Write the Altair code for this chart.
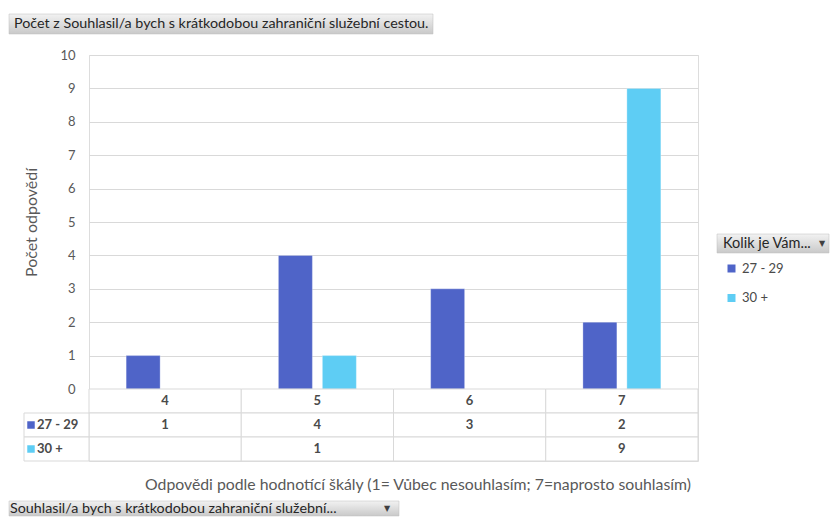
import altair as alt
import pandas as pd

categories = ["4", "5", "6", "7"]
series = ["27 - 29", "30 +"]
values_27_29 = [1, 4, 3, 2]
values_30_plus = [None, 1, None, 9]
colors = ["#4F64C8", "#5ECDF4"]
y_ticks = list(range(0, 11))

chart_title = "Počet z Souhlasil/a bych s krátkodobou zahraniční služební cestou."
y_title = "Počet odpovědí"
x_title = "Odpovědi podle hodnotící škály (1= Vůbec nesouhlasím; 7=naprosto souhlasím)"
legend_header = "Kolik je Vám..."
filter_label = "Souhlasil/a bych s krátkodobou zahraniční služební..."

FONT = "Lato"
GRID = "#D9D9D9"
TXT = "#595959"
DARK = "#4A4A4A"

rows = []
for s, vals in zip(series, [values_27_29, values_30_plus]):
    for c, v in zip(categories, vals):
        if v is not None:
            rows.append({"cat": c, "series": s, "count": v, "label": str(v)})
df = pd.DataFrame(rows)

W, H = 609, 334
TH = 72

grad = alt.Gradient(
    gradient="linear",
    stops=[alt.GradientStop(color="#F2F2F2", offset=0), alt.GradientStop(color="#C9C9C9", offset=1)],
    x1=0, x2=0, y1=0, y2=1,
)

one = pd.DataFrame({"k": [0]})

bars = alt.Chart(df).mark_bar(stroke="#FFFFFF", strokeWidth=0.6, strokeOpacity=0.5).encode(
    x=alt.X("cat:N", scale=alt.Scale(domain=categories, paddingInner=0.488, paddingOuter=0.244), axis=None),
    xOffset=alt.XOffset("series:N", scale=alt.Scale(domain=series, paddingInner=0.227, paddingOuter=0)),
    y=alt.Y(
        "count:Q",
        scale=alt.Scale(domain=[0, 10], nice=False),
        axis=alt.Axis(
            values=y_ticks, title=y_title, grid=True, gridColor=GRID, domain=False, ticks=False,
            labelPadding=14, labelFont=FONT, labelFontSize=13, labelColor=TXT,
            titleFont=FONT, titleFontSize=16, titleFontWeight="normal", titleColor=TXT, titlePadding=20,
        ),
    ),
    color=alt.Color(
        "series:N",
        scale=alt.Scale(domain=series, range=colors),
        legend=alt.Legend(
            orient="none", legendX=636, legendY=207, title=None, symbolType="square", symbolSize=64,
            symbolStrokeWidth=0, labelFont=FONT, labelFontSize=13, labelColor=DARK, rowPadding=15.5, padding=0,
        ),
    ),
)

title_box = alt.Chart(one).mark_rect(color=grad, stroke="#BFBFBF", strokeWidth=0.5).encode(
    x=alt.value(-80), x2=alt.value(344), y=alt.value(-41), y2=alt.value(-21)
)
title_text = alt.Chart(one).mark_text(
    text=chart_title, align="left", baseline="middle", font=FONT, fontSize=14.3, color="#262626"
).encode(x=alt.value(-75), y=alt.value(-31))

leg_box = alt.Chart(one).mark_rect(color=grad, stroke="#BFBFBF", strokeWidth=0.5).encode(
    x=alt.value(628), x2=alt.value(740), y=alt.value(179), y2=alt.value(198)
)
leg_text = alt.Chart(one).mark_text(
    text=legend_header, align="left", baseline="middle", font=FONT, fontSize=14.5, color="#262626"
).encode(x=alt.value(634), y=alt.value(188.5))
leg_arrow = alt.Chart(one).mark_text(
    text="▼", align="center", baseline="middle", font="DejaVu Sans", fontSize=8, color="#404040"
).encode(x=alt.value(733), y=alt.value(189))

top = alt.layer(bars, title_box, title_text, leg_box, leg_text, leg_arrow).properties(width=W, height=H)

# ---- data table ----
row_domain = ["hdr"] + series
cells = pd.DataFrame([{"cat": c, "row": r} for c in categories for r in row_domain])
hdr = pd.DataFrame({"cat": categories, "row": ["hdr"] * len(categories), "label": categories})
side = pd.DataFrame({"row": series, "series": series})

xs = alt.X("cat:N", scale=alt.Scale(domain=categories, paddingInner=0, paddingOuter=0), axis=None)
ys = alt.Y("row:N", scale=alt.Scale(domain=row_domain, paddingInner=0, paddingOuter=0), axis=None)

grid_cells = alt.Chart(cells).mark_rect(fill="white", stroke=GRID, strokeWidth=1).encode(x=xs, y=ys)
side_cells = alt.Chart(side).mark_rect(fill="white", stroke=GRID, strokeWidth=1).encode(
    x=alt.value(-65), x2=alt.value(0), y=ys
)
side_sq = alt.Chart(side).mark_square(size=56, opacity=1).encode(
    x=alt.value(-58), y=ys,
    color=alt.Color("series:N", scale=alt.Scale(domain=series, range=colors), legend=None),
)
side_txt = alt.Chart(side).mark_text(
    align="left", baseline="middle", font=FONT, fontSize=13, color=DARK, fontWeight="bold"
).encode(x=alt.value(-52), y=ys, text="series:N")
hdr_txt = alt.Chart(hdr).mark_text(
    baseline="middle", font=FONT, fontSize=13, color=DARK, fontWeight="bold"
).encode(x=xs, y=ys, text="label:N")
val_txt = alt.Chart(df.rename(columns={"series": "row"})).mark_text(
    baseline="middle", font=FONT, fontSize=13, color=DARK, fontWeight="bold"
).encode(x=xs, y=ys, text="label:N")

xt = alt.Chart(one).mark_text(
    text=x_title, align="center", baseline="middle", font=FONT, fontSize=15.8, color=TXT
).encode(x=alt.value(329), y=alt.value(96))

filt_box = alt.Chart(one).mark_rect(color=grad, stroke="#BFBFBF", strokeWidth=0.5).encode(
    x=alt.value(-80), x2=alt.value(310), y=alt.value(112), y2=alt.value(127)
)
filt_text = alt.Chart(one).mark_text(
    text=filter_label, align="left", baseline="middle", font=FONT, fontSize=14.3, color="#262626"
).encode(x=alt.value(-79), y=alt.value(119.5))
filt_arrow = alt.Chart(one).mark_text(
    text="▼", align="center", baseline="middle", font="DejaVu Sans", fontSize=8, color="#404040"
).encode(x=alt.value(298), y=alt.value(119.5))

table = alt.layer(
    grid_cells, side_cells, side_sq, side_txt, hdr_txt, val_txt, xt, filt_box, filt_text, filt_arrow
).properties(width=W, height=TH)

chart = alt.vconcat(top, table, spacing=0, bounds="flush").resolve_scale(
    x="independent", y="independent", color="shared"
).properties(
    autosize=alt.AutoSizeParams(type="pad"),
    padding={"left": 0, "top": 5, "right": 0, "bottom": 0},
).configure_view(stroke=None).configure(background="white")

chart.save("out.html", embed_options={"renderer": "svg", "actions": False})
